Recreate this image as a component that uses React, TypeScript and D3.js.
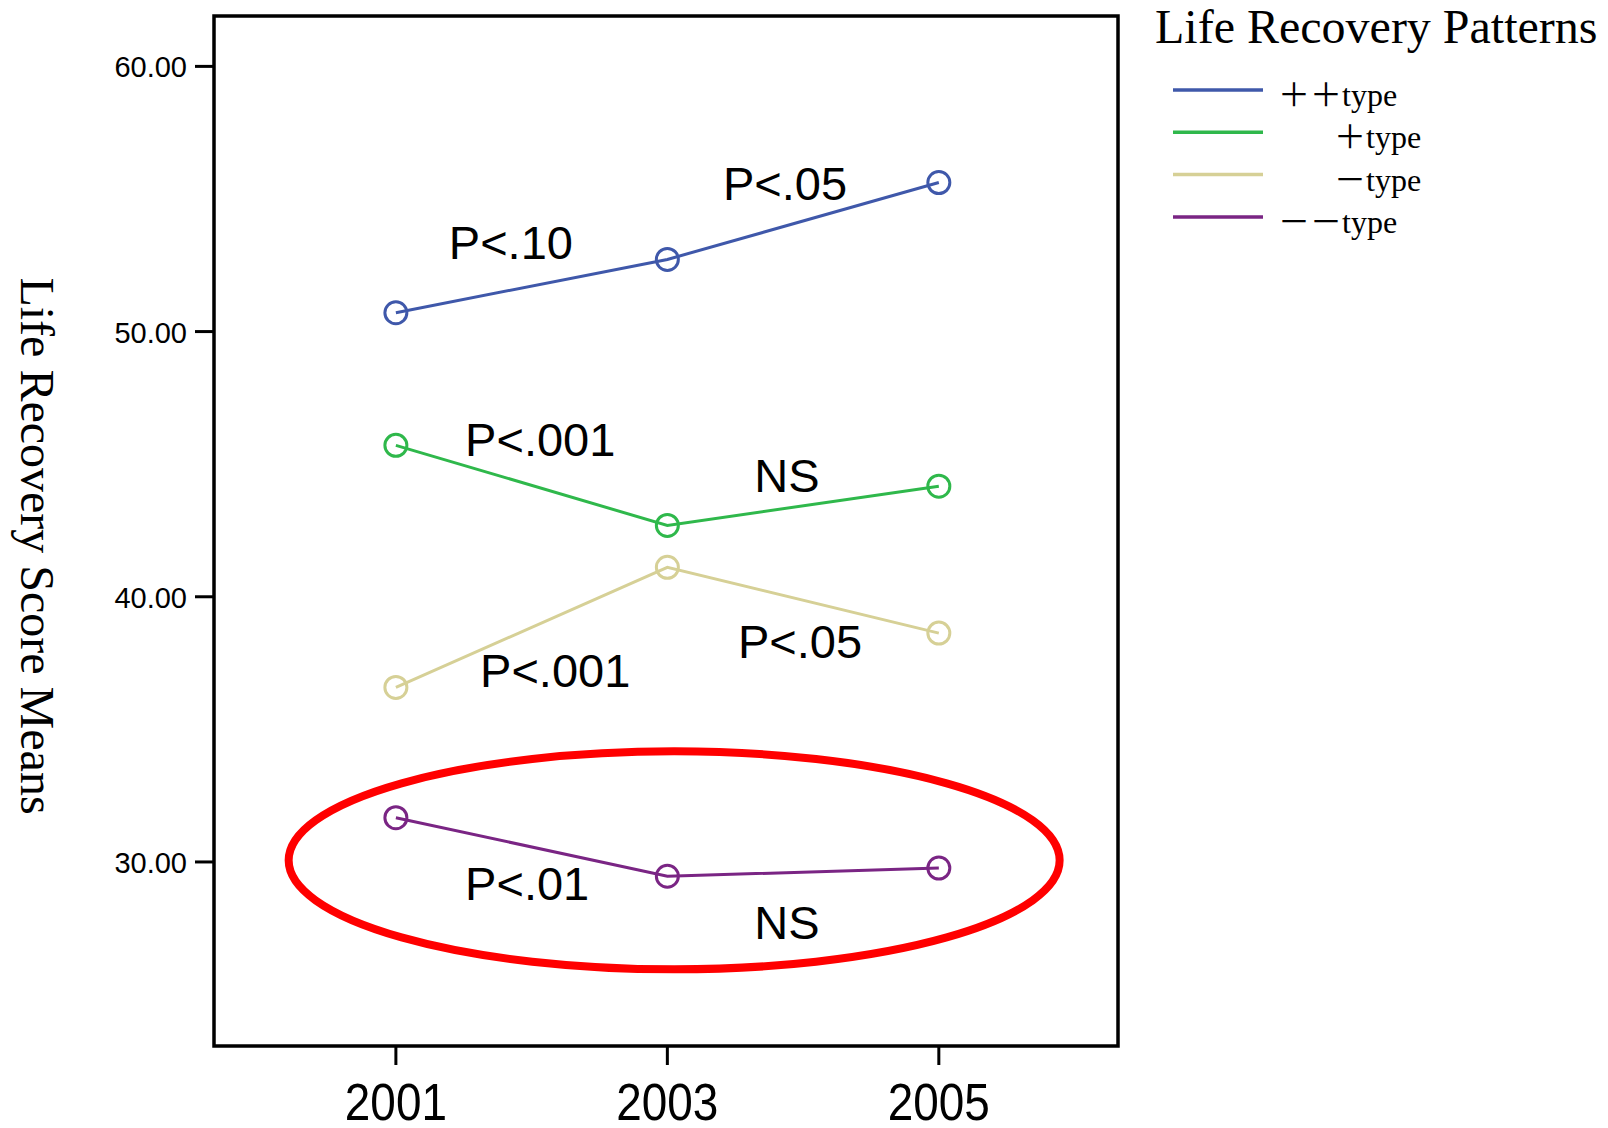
import React from 'react';
import * as d3 from 'd3';

const years = [2001, 2003, 2005];
const yTicks = [30, 40, 50, 60];

const seriesNames = ['++', '+', '-', '--'];
const legendLabels = ['＋＋', '＋', '－', '－－'];
const colors = ['#3f58aa', '#2fb84b', '#d6d096', '#7a2584'];

const plusPlusValues = [50.71, 52.72, 55.62];
const plusValues = [45.71, 42.69, 44.17];
const minusValues = [36.58, 41.11, 38.63];
const minusMinusValues = [31.67, 29.46, 29.77];

// significance notes: [year, value, text]
const notes: [number, number, string][] = [
  [2001.39, 52.74, 'P<.10'],
  [2003.41, 54.96, 'P<.05'],
  [2001.51, 45.3, 'P<.001'],
  [2003.64, 43.94, 'NS'],
  [2001.62, 36.58, 'P<.001'],
  [2003.52, 37.68, 'P<.05'],
  [2001.51, 28.55, 'P<.01'],
  [2003.64, 27.08, 'NS'],
];

// highlight ellipse in data units: center year, center value, x radius (years), y radius (units)
const highlight = { year: 2003.05, value: 30.06, rx: 2.84, ry: 4.11 };

const allValues = [plusPlusValues, plusValues, minusValues, minusMinusValues];

const W = 1608;
const H = 1128;
const frame = { left: 214, top: 16, right: 1118, bottom: 1046 };

const App: React.FC = () => {
  const x = d3.scaleLinear().domain([1999.66, 2006.32]).range([frame.left, frame.right]);
  const y = d3.scaleLinear().domain([23.06, 61.9]).range([frame.bottom, frame.top]);

  const line = d3.line<number>()
    .x((_, i) => x(years[i]))
    .y(d => y(d));

  const sans = 'Arial, "Liberation Sans", Helvetica, sans-serif';
  const serif = '"Times New Roman", "Liberation Serif", Times, serif';

  return (
    <svg width={W} height={H} style={{ position: 'absolute', left: 0, top: 0, background: '#fff' }}>
      {/* frame */}
      <rect
        x={frame.left} y={frame.top}
        width={frame.right - frame.left} height={frame.bottom - frame.top}
        fill="none" stroke="#000" strokeWidth={3.5}
      />

      {/* y axis ticks */}
      {yTicks.map(t => (
        <g key={t}>
          <line x1={frame.left - 19} x2={frame.left} y1={y(t)} y2={y(t)} stroke="#000" strokeWidth={3} />
          <text x={frame.left - 27} y={y(t)} dy="0.38em" textAnchor="end" fontFamily={sans} fontSize={29}>
            {t.toFixed(2)}
          </text>
        </g>
      ))}

      {/* x axis ticks */}
      {years.map(yr => (
        <g key={yr}>
          <line x1={x(yr)} x2={x(yr)} y1={frame.bottom} y2={frame.bottom + 19} stroke="#000" strokeWidth={3} />
          <text
            transform={`translate(${x(yr)},${frame.bottom + 74}) scale(0.9,1)`}
            textAnchor="middle" fontFamily={sans} fontSize={51}
          >
            {yr}
          </text>
        </g>
      ))}

      {/* y axis title */}
      <text
        transform={`translate(21,${(frame.top + frame.bottom) / 2 + 15}) rotate(90)`}
        textAnchor="middle" fontFamily={serif} fontSize={48}
      >
        Life Recovery Score Means
      </text>

      {/* series */}
      {allValues.map((vals, s) => (
        <g key={seriesNames[s]}>
          <path d={line(vals) || ''} fill="none" stroke={colors[s]} strokeWidth={3} />
          {vals.map((v, i) => (
            <circle key={i} cx={x(years[i])} cy={y(v)} r={11} fill="none" stroke={colors[s]} strokeWidth={3} />
          ))}
        </g>
      ))}

      {/* notes */}
      {notes.map(([yr, v, t], i) => (
        <text key={i} x={x(yr)} y={y(v)} fontFamily={sans} fontSize={47}>{t}</text>
      ))}

      {/* highlight ellipse */}
      <ellipse
        cx={x(highlight.year)} cy={y(highlight.value)}
        rx={x(highlight.year + highlight.rx) - x(highlight.year)}
        ry={y(highlight.value - highlight.ry) - y(highlight.value)}
        fill="none" stroke="#ff0000" strokeWidth={8}
      />

      {/* legend */}
      <text x={1155} y={43} fontFamily={serif} fontSize={48}>Life Recovery Patterns</text>
      {legendLabels.map((lab, i) => (
        <g key={i} transform={`translate(0,${90 + i * 42.3})`}>
          <line x1={1173} x2={1263} y1={0} y2={0} stroke={colors[i]} strokeWidth={3.5} />
          <text
            x={lab.length === 2 ? 1278 : 1334} y={16}
            fontFamily={serif} fontSize={32}
          >
            <tspan fontFamily='"Noto Sans CJK JP", sans-serif' fontSize={32}>{lab}</tspan>
            <tspan>type</tspan>
          </text>
        </g>
      ))}
    </svg>
  );
};

export default App;
